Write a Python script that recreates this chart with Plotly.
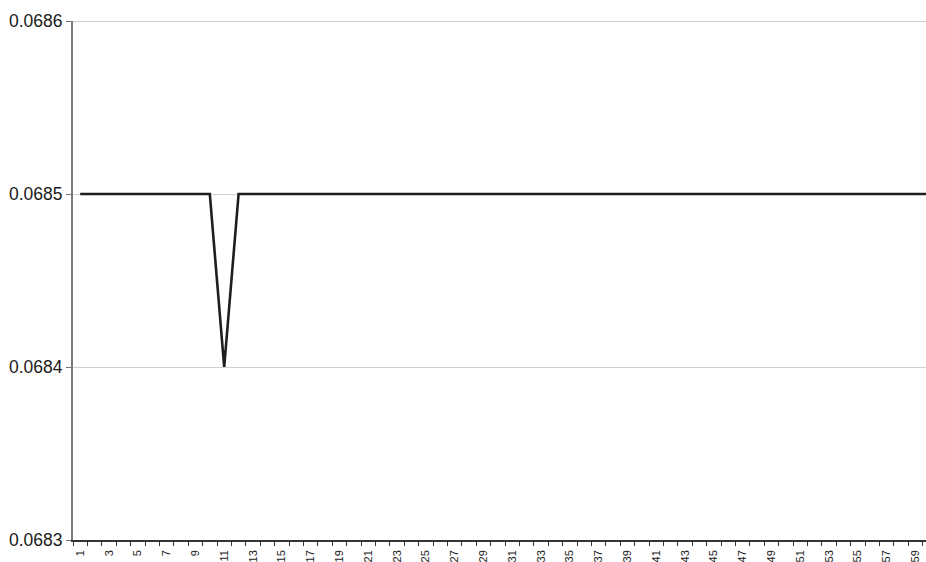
import plotly.graph_objects as go

# Category positions 1..60 and the series values
categories = list(range(1, 61))
values = [0.0685] * 10 + [0.0684] + [0.0685] * 49

# Labels shown on every other category
label_positions = list(range(1, 60, 2))
label_text = [str(v) for v in label_positions]

y_ticks = [0.0683, 0.0684, 0.0685, 0.0686]
y_text = ["0.0683", "0.0684", "0.0685", "0.0686"]

fig = go.Figure()
fig.add_trace(go.Scatter(
    x=categories, y=values, mode="lines",
    line=dict(color="#1e1e1e", width=2.6),
    showlegend=False, hoverinfo="skip",
))

fig.update_layout(
    width=926, height=562,
    margin=dict(l=73, r=0, t=21, b=22, autoexpand=False),
    paper_bgcolor="white", plot_bgcolor="white",
    font=dict(family="Liberation Sans, Arial, sans-serif", color="#1a1a1a"),
    xaxis=dict(
        range=[0.5, 0.5 + 853 / 14.4],
        tickmode="array", tickvals=label_positions, ticktext=label_text,
        ticks="", tickangle=-90, tickfont=dict(size=11),
        ticklabelstandoff=4,
        showgrid=False, zeroline=False,
        showline=True, linecolor="#333333", linewidth=1.5,
        minor=dict(tickmode="array",
                   tickvals=[c + 0.5 for c in range(0, 61)],
                   ticks="outside", ticklen=4, tickcolor="#333333",
                   tickwidth=1, showgrid=False),
        automargin=False,
    ),
    yaxis=dict(
        range=[0.0683, 0.0686],
        tickmode="array", tickvals=y_ticks, ticktext=y_text,
        ticks="outside", ticklen=5, tickcolor="#777777", tickwidth=1,
        tickfont=dict(size=17.5),
        showgrid=True, gridcolor="#cfcfcf", gridwidth=1,
        zeroline=False,
        showline=True, linecolor="#7a7a7a", linewidth=2,
        automargin=False,
    ),
)

# Top border of the plot area
fig.add_shape(type="line", xref="paper", yref="y", x0=0, x1=1,
              y0=0.0686, y1=0.0686, line=dict(color="#999999", width=1.2),
              layer="below")

fig.write_html("out.html")
